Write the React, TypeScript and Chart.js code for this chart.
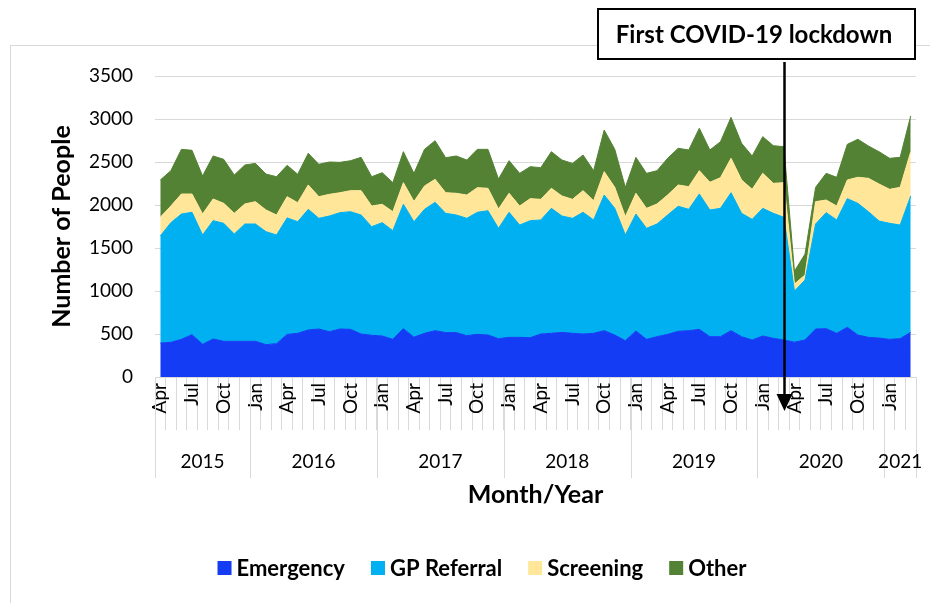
import React, { useEffect, useRef } from 'react';
import { Chart, registerables } from 'chart.js';

Chart.register(...registerables);

const categories = [
  'Apr 2015', 'May 2015', 'Jun 2015', 'Jul 2015', 'Aug 2015', 'Sep 2015', 'Oct 2015', 'Nov 2015', 'Dec 2015',
  'Jan 2016', 'Feb 2016', 'Mar 2016', 'Apr 2016', 'May 2016', 'Jun 2016', 'Jul 2016', 'Aug 2016', 'Sep 2016', 'Oct 2016', 'Nov 2016', 'Dec 2016',
  'Jan 2017', 'Feb 2017', 'Mar 2017', 'Apr 2017', 'May 2017', 'Jun 2017', 'Jul 2017', 'Aug 2017', 'Sep 2017', 'Oct 2017', 'Nov 2017', 'Dec 2017',
  'Jan 2018', 'Feb 2018', 'Mar 2018', 'Apr 2018', 'May 2018', 'Jun 2018', 'Jul 2018', 'Aug 2018', 'Sep 2018', 'Oct 2018', 'Nov 2018', 'Dec 2018',
  'Jan 2019', 'Feb 2019', 'Mar 2019', 'Apr 2019', 'May 2019', 'Jun 2019', 'Jul 2019', 'Aug 2019', 'Sep 2019', 'Oct 2019', 'Nov 2019', 'Dec 2019',
  'Jan 2020', 'Feb 2020', 'Mar 2020', 'Apr 2020', 'May 2020', 'Jun 2020', 'Jul 2020', 'Aug 2020', 'Sep 2020', 'Oct 2020', 'Nov 2020', 'Dec 2020',
  'Jan 2021', 'Feb 2021', 'Mar 2021',
];

const emergency = [
  395, 403, 438, 492, 380, 442, 415, 415, 415,
  415, 376, 388, 495, 508, 547, 558, 527, 558, 554, 500, 485,
  477, 438, 562, 463, 508, 539, 516, 516, 481, 496, 488, 446,
  461, 461, 457, 500, 508, 519, 508, 500, 508, 539, 488, 422,
  535, 438, 469, 496, 531, 539, 554, 469, 469, 539, 469, 430,
  477, 450, 430, 405, 430, 558, 562, 508, 578, 488, 461, 453,
  438, 446, 519,
];

const gpReferral = [
  1245, 1392, 1457, 1423, 1271, 1376, 1372, 1248, 1364,
  1364, 1314, 1263, 1355, 1298, 1403, 1287, 1345, 1353, 1368, 1384, 1263,
  1318, 1264, 1446, 1342, 1442, 1492, 1387, 1368, 1364, 1419, 1446, 1283,
  1454, 1306, 1361, 1326, 1453, 1353, 1337, 1415, 1318, 1577, 1473, 1229,
  1360, 1291, 1310, 1388, 1454, 1411, 1574, 1473, 1492, 1604, 1434, 1403,
  1484, 1453, 1427, 595, 698, 1221, 1349, 1318, 1496, 1531, 1461, 1361,
  1349, 1321, 1586,
];

const screening = [
  217, 193, 233, 213, 244, 252, 232, 240, 233,
  260, 252, 233, 247, 221, 283, 252, 252, 232, 245, 283, 240,
  213, 220, 252, 235, 271, 267, 240, 252, 271, 287, 260, 224,
  221, 221, 256, 240, 233, 233, 221, 252, 224, 272, 244, 213,
  241, 232, 233, 232, 248, 263, 271, 322, 357, 400, 388, 349,
  407, 349, 403, 81, 58, 260, 147, 162, 217, 303, 388, 430,
  395, 438, 515,
];

const other = [
  434, 411, 519, 508, 442, 500, 512, 446, 453,
  445, 418, 445, 364, 330, 368, 376, 376, 353, 348, 387, 341,
  368, 338, 360, 328, 426, 450, 407, 434, 407, 445, 453, 349,
  379, 380, 372, 368, 426, 418, 418, 414, 349, 484, 442, 341,
  418, 407, 387, 427, 426, 427, 493, 376, 418, 476, 426, 388,
  427, 438, 418, 149, 244, 166, 310, 334, 414, 442, 376, 376,
  361, 349, 415,
];

const seriesNames = ['Emergency', 'GP Referral', 'Screening', 'Other'];
const seriesColors = ['#143CF5', '#00B0F0', '#FFE699', '#548235'];
const shownMonths = ['Jan', 'Apr', 'Jul', 'Oct'];
const yAxisTitle = 'Number of People';
const xAxisTitle = 'Month/Year';
const annotationText = 'First COVID-19 lockdown';
const lockdownIndex = 59;

const FONT = 'Lato, Carlito, "Liberation Sans", sans-serif';
const GRID = '#d9d9d9';

const decorPlugin = {
  id: 'decor',
  beforeDraw(chart: any) {
    const ctx = chart.ctx;
    ctx.save();
    ctx.fillStyle = '#ffffff';
    ctx.fillRect(0, 0, chart.width, chart.height);
    ctx.strokeStyle = GRID;
    ctx.lineWidth = 1;
    ctx.strokeRect(10.5, 45.5, chart.width + 10, chart.height + 10);
    ctx.restore();
  },
  afterDraw(chart: any) {
    const ctx = chart.ctx;
    const xs = chart.scales.x;
    const half = (xs.getPixelForValue(1) - xs.getPixelForValue(0)) / 2;

    // year groups
    const groups: { year: string; start: number; end: number }[] = [];
    categories.forEach((c, i) => {
      const yr = c.split(' ')[1];
      const last = groups[groups.length - 1];
      if (!last || last.year !== yr) groups.push({ year: yr, start: i, end: i });
      else last.end = i;
    });
    ctx.save();
    ctx.strokeStyle = GRID;
    ctx.lineWidth = 1;
    const top = xs.top;
    groups.forEach((g, gi) => {
      const l = Math.round(xs.getPixelForValue(g.start) - half) + 0.5;
      ctx.beginPath();
      ctx.moveTo(l, top);
      ctx.lineTo(l, top + 101);
      ctx.stroke();
      if (gi === groups.length - 1) {
        const r = Math.round(xs.getPixelForValue(g.end) + half) + 0.5;
        ctx.beginPath();
        ctx.moveTo(r, top);
        ctx.lineTo(r, top + 101);
        ctx.stroke();
      }
    });
    ctx.fillStyle = '#000';
    ctx.font = `19px ${FONT}`;
    ctx.textAlign = 'center';
    ctx.textBaseline = 'middle';
    groups.forEach((g) => {
      const l = xs.getPixelForValue(g.start) - half;
      const r = xs.getPixelForValue(g.end) + half;
      ctx.fillText(g.year, (l + r) / 2, top + 85);
    });

    // legend
    ctx.font = `bold 22px ${FONT}`;
    const box = 14;
    const gapBT = 5;
    const gapItems = 26;
    const ws = seriesNames.map((n) => box + gapBT + ctx.measureText(n).width);
    const total = ws.reduce((a, b) => a + b, 0) + gapItems * (ws.length - 1);
    let lx = 482 - total / 2;
    const ly = 568;
    ctx.textAlign = 'left';
    seriesNames.forEach((n, i) => {
      ctx.fillStyle = seriesColors[i];
      ctx.fillRect(lx, ly - box / 2, box, box);
      ctx.fillStyle = '#000';
      ctx.fillText(n, lx + box + gapBT, ly + 1);
      lx += ws[i] + gapItems;
    });

    // annotation
    const ax = Math.round(xs.getPixelForValue(lockdownIndex)) + 0.5;
    ctx.strokeStyle = '#000';
    ctx.lineWidth = 2.5;
    ctx.beginPath();
    ctx.moveTo(ax, 62);
    ctx.lineTo(ax, 396);
    ctx.stroke();
    ctx.fillStyle = '#000';
    ctx.beginPath();
    ctx.moveTo(ax - 8, 394);
    ctx.lineTo(ax + 8, 394);
    ctx.lineTo(ax, 411);
    ctx.closePath();
    ctx.fill();

    ctx.fillStyle = '#fff';
    ctx.fillRect(598, 9, 317, 50);
    ctx.lineWidth = 2;
    ctx.strokeRect(598, 9, 317, 50);
    ctx.fillStyle = '#000';
    ctx.font = `bold 24px ${FONT}`;
    ctx.textAlign = 'center';
    ctx.fillText(annotationText, 754, 35);
    ctx.restore();
  },
};

export default function App() {
  const ref = useRef<HTMLCanvasElement | null>(null);

  useEffect(() => {
    if (!ref.current) return;
    const values = [emergency, gpReferral, screening, other];
    const chart = new Chart(ref.current, {
      type: 'line',
      data: {
        labels: categories,
        datasets: values.map((d, i) => ({
          label: seriesNames[i],
          data: d,
          backgroundColor: seriesColors[i],
          borderColor: seriesColors[i],
          borderWidth: 1,
          pointRadius: 0,
          tension: 0,
          fill: i === 0 ? 'origin' : '-1',
        })),
      },
      options: {
        animation: false,
        responsive: false,
        devicePixelRatio: 1,
        events: [],
        layout: { padding: { top: 76, right: 14, bottom: 86, left: 0 } },
        plugins: {
          legend: { display: false },
          tooltip: { enabled: false },
        },
        scales: {
          x: {
            type: 'category',
            offset: true,
            grid: {
              offset: true,
              drawOnChartArea: false,
              drawTicks: true,
              tickLength: 53,
              color: GRID,
            },
            border: { display: true, color: GRID },
            ticks: {
              autoSkip: false,
              minRotation: 90,
              maxRotation: 90,
              padding: -47,
              color: '#000',
              font: { family: FONT, size: 19 },
              callback: (_v: any, i: number) => {
                const m = categories[i].slice(0, 3);
                return shownMonths.includes(m) ? m : '';
              },
            },
            title: {
              display: true,
              text: xAxisTitle,
              color: '#000',
              font: { family: FONT, size: 25, weight: 'bold' },
              padding: { top: 0, bottom: 7 },
            },
            afterFit: (s: any) => {
              s.height = 140;
              s.paddingLeft = 0;
              s.paddingRight = 0;
            },
          },
          y: {
            stacked: true,
            min: 0,
            max: 3500,
            grid: { color: GRID, drawTicks: false },
            border: { display: false },
            ticks: {
              stepSize: 500,
              padding: 22,
              color: '#000',
              font: { family: FONT, size: 19 },
              callback: (v: any) => String(v),
            },
            title: {
              display: true,
              text: yAxisTitle,
              color: '#000',
              font: { family: FONT, size: 25, weight: 'bold' },
              padding: { top: 47, bottom: 0 },
            },
            afterFit: (s: any) => {
              s.width = 155;
              s.paddingTop = 0;
              s.paddingBottom = 0;
            },
          },
        },
      },
      plugins: [decorPlugin],
    });
    return () => chart.destroy();
  }, []);

  return (
    <div style={{ position: 'absolute', left: 0, top: 0, width: 930, height: 603, background: '#fff' }}>
      <canvas ref={ref} width={930} height={603} style={{ width: 930, height: 603, display: 'block' }} />
    </div>
  );
}
